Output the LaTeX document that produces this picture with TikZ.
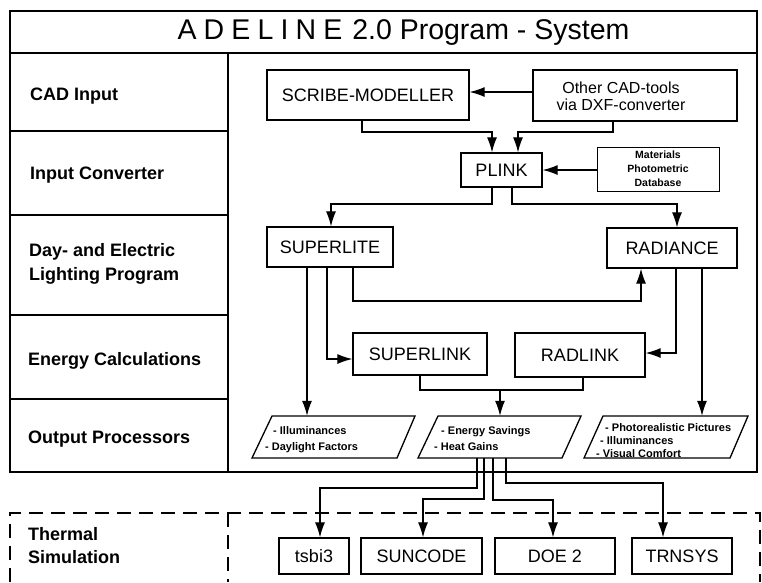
\documentclass[tikz,border=0pt]{standalone}
\usepackage{fontspec}
\setmainfont{Liberation Sans}
\usetikzlibrary{arrows.meta}
\newcommand\tsp{\hspace{0.25em}}
\begin{document}
\begin{tikzpicture}[x=1pt,y=-1pt,
  box/.style={draw,line width=1.3pt,inner sep=0pt,font=\fontsize{18}{20}\selectfont},
  lab/.style={anchor=base west,inner sep=0pt,font=\bfseries\fontsize{18}{20}\selectfont},
  small/.style={anchor=base west,inner sep=0pt,font=\bfseries\fontsize{11}{13}\selectfont},
  pgram/.style={line width=1.3pt},
  conn/.style={line width=1.2pt},
  arr/.style={conn,-{Latex[length=15pt,width=10pt]}},
  frame/.style={line width=1.8pt},
  dashline/.style={line width=1.8pt,dash pattern=on 14pt off 8pt}]
\useasboundingbox (0,0) rectangle (762,582);

% main frame
\draw[frame] (10,11) rectangle (757,472);
\draw[frame] (10,53) -- (757,53);
\draw[frame] (228,53) -- (228,472);
\foreach \yy in {131,215,315,399} \draw[line width=1.5pt] (10,\yy) -- (228,\yy);

\node[inner sep=0pt,font=\fontsize{28.5}{30}\selectfont] (title) at (403.5,33)
  {A\tsp D\tsp E\tsp L\tsp I\tsp N\tsp E\hspace{0.35em}2.0 Program - System};

% left labels
\node[lab] (l1) at (30,100) {CAD Input};
\node[lab] (l2) at (30,179) {Input Converter};
\node[lab] (l3) at (29,256) {Day- and Electric};
\node[lab] (l4) at (29,280) {Lighting Program};
\node[lab] (l5) at (28,365) {Energy Calculations};
\node[lab] (l6) at (28,443) {Output Processors};
\node[lab] (l7) at (28,540) {Thermal};
\node[lab] (l8) at (28,563) {Simulation};

% boxes
\node[box,minimum width=202pt,minimum height=50pt] (scribe) at (368,95) {SCRIBE-MODELLER};
\node[box,minimum width=204pt,minimum height=51pt] (other) at (635,95.5) {};
\node[align=center,inner sep=0pt,font=\fontsize{16}{17}\selectfont] (othertxt) at (621,96) {Other CAD-tools\\via DXF-converter};
\node[box,minimum width=81pt,minimum height=34pt] (plink) at (501.5,170) {PLINK};
\node[draw,line width=1pt,minimum width=122pt,minimum height=44pt,align=center,inner sep=0pt,
  font=\bfseries\fontsize{10.5}{14}\selectfont] (mat) at (658,169) {Materials\\Photometric\\Database};
\node[box,minimum width=126pt,minimum height=40pt] (superlite) at (330,247) {SUPERLITE};
\node[box,minimum width=130pt,minimum height=40pt] (radiance) at (672,248) {RADIANCE};
\node[box,minimum width=134pt,minimum height=42pt] (superlink) at (420,354) {SUPERLINK};
\node[box,minimum width=130pt,minimum height=44pt] (radlink) at (580,355) {RADLINK};

% output parallelograms
\node[minimum width=163pt,minimum height=42pt,inner sep=0pt] (illum) at (333.5,437) {};
\node[minimum width=163pt,minimum height=42pt,inner sep=0pt] (energy) at (499.5,437) {};
\node[minimum width=164pt,minimum height=42pt,inner sep=0pt] (photo) at (666,437) {};
\draw[pgram] (272,416) -- (415,416) -- (397,458) -- (252,458) -- cycle;
\draw[pgram] (438,416) -- (581,416) -- (562,458) -- (418,458) -- cycle;
\draw[pgram] (603,416) -- (748,416) -- (730,458) -- (584,458) -- cycle;
\node[small] (t1) at (273,434) {- Illuminances};
\node[small] (t2) at (265,450) {- Daylight Factors};
\node[small] (t3) at (441,434) {- Energy Savings};
\node[small] (t4) at (434,450) {- Heat Gains};
\node[small] (t5) at (605,431) {- Photorealistic Pictures};
\node[small] (t6) at (600,444) {- Illuminances};
\node[small] (t7) at (596,457) {- Visual Comfort};

% thermal simulation
\draw[dashline] (10,582) -- (10,513) -- (760,513) -- (760,582);
\draw[dashline] (228,513) -- (228,582);
\node[box,minimum width=70pt,minimum height=36pt] (tsbi) at (314,556) {tsbi3};
\node[box,minimum width=121pt,minimum height=36pt] (suncode) at (421.5,556) {SUNCODE};
\node[box,minimum width=120pt,minimum height=36pt] (doe) at (555,556) {DOE 2};
\node[box,minimum width=100pt,minimum height=36pt] (trnsys) at (682,556) {TRNSYS};

% connectors
\draw[arr] (other.west |- 0,92) -- (scribe.east |- 0,92);
\draw[arr] (scribe.south -| 362,0) -- (362,132) -| (plink.north -| 492,0);
\draw[arr] (other.south -| 613,0) -- (613,132) -| (plink.north -| 518,0);
\draw[arr] (mat.west |- plink.east) -- (plink.east);
\draw[arr] (plink.south -| 492,0) -- (492,204) -| (superlite.north -| 331,0);
\draw[arr] (plink.south -| 512,0) -- (512,204) -| (radiance.north -| 677,0);
\draw[arr] (superlite.south -| 353,0) -- (353,301) -| (radiance.south -| 641,0);
\draw[arr] (superlite.south -| 327,0) |- (superlink.west |- 0,359);
\draw[arr] (superlite.south -| 307,0) -- (illum.north -| 307,0);
\draw[arr] (radiance.south -| 676,0) |- (radlink.east |- 0,353);
\draw[arr] (radiance.south -| 702,0) -- (photo.north -| 702,0);
\draw[conn] (superlink.south) -- (420,390) -| (radlink.south -| 583,0);
\coordinate (join) at (500,390);
\draw[arr] (join) -- (energy.north -| join);
\draw[arr] (energy.south -| 477,0) -- (477,488) -| (tsbi.north -| 320,0);
\draw[arr] (energy.south -| 484,0) -- (484,499) -| (suncode.north -| 423,0);
\draw[arr] (energy.south -| 493,0) -- (493,500) -| (doe.north -| 553,0);
\draw[arr] (energy.south -| 506,0) -- (506,483) -| (trnsys.north -| 663,0);
\end{tikzpicture}
\end{document}
